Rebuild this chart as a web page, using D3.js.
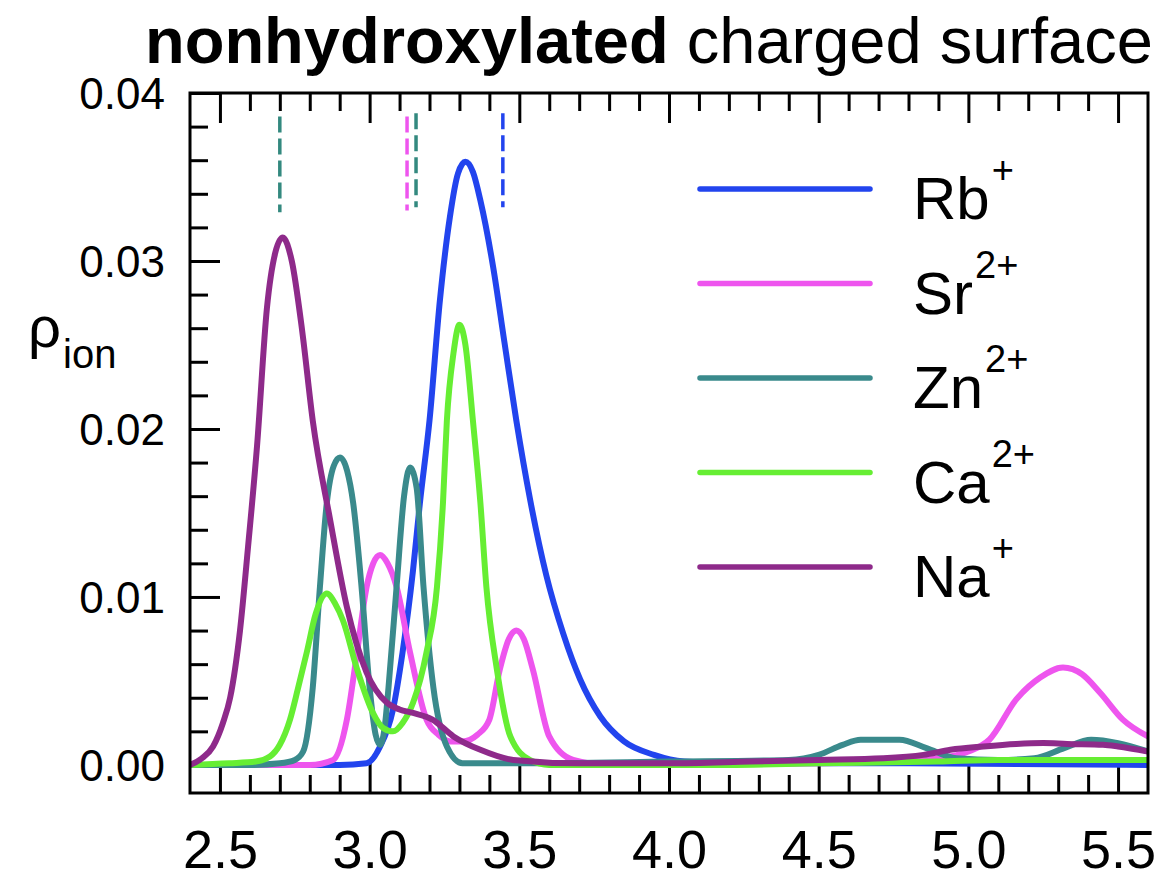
<!DOCTYPE html>
<html lang="en">
<head>
    <meta charset="UTF-8">
    <title>nonhydroxylated charged surface</title>
    <script src="https://d3js.org/d3.v7.min.js"></script>
    <style>
        body { margin: 0; background: #fff; }
        svg { font-family: "Liberation Sans", Arial, Helvetica, sans-serif; }
        .frame { fill: none; stroke: #000; stroke-width: 3; }
        .axis line { stroke: #000; stroke-width: 3; }
        .axis path { display: none; }
        .ion { fill: none; stroke-width: 6; stroke-linejoin: round; stroke-linecap: round; }
    </style>
</head>
<body>
<script>
    const width = 1173;
    const height = 880;

    // series, [distance, density]
    const rb = [[2.40,0],[2.90,0],[2.99,0.0001],[3.035,0.0011],[3.078,0.0033],[3.11,0.0067],[3.145,0.0116],
        [3.168,0.0156],[3.20,0.0205],[3.235,0.0277],[3.268,0.0326],[3.295,0.0352],[3.32,0.0359],[3.345,0.0353],
        [3.37,0.0336],[3.413,0.0296],[3.45,0.0252],[3.49,0.0205],[3.536,0.0158],[3.59,0.0113],[3.647,0.0078],
        [3.703,0.0051],[3.77,0.0029],[3.85,0.0014],[3.95,0.0006],[4.05,0.0002],[4.20,0.0001],[4.80,0.0001],[5.60,0]];
    const sr = [[2.40,0],[2.80,0],[2.878,0.0003],[2.924,0.0027],[2.958,0.0067],[2.99,0.0106],[3.012,0.0120],
        [3.035,0.0125],[3.06,0.0120],[3.09,0.0106],[3.135,0.0067],[3.19,0.0027],[3.23,0.0018],[3.27,0.0014],
        [3.31,0.0014],[3.36,0.0018],[3.40,0.0027],[3.435,0.0057],[3.465,0.0075],[3.49,0.0080],[3.515,0.0075],
        [3.545,0.0057],[3.60,0.0017],[3.68,0.0003],[3.80,0],[4.50,0.0001],[4.70,0.0002],[4.90,0.0004],
        [5.00,0.0008],[5.07,0.0015],[5.16,0.0039],[5.24,0.0052],[5.316,0.0058],[5.38,0.0054],[5.44,0.0043],
        [5.516,0.0027],[5.60,0.0017]];
    const zn = [[2.40,0],[2.60,0],[2.70,0.0001],[2.75,0.0003],[2.778,0.0008],[2.81,0.0046],[2.834,0.0106],
        [2.857,0.0156],[2.88,0.0178],[2.901,0.0183],[2.925,0.0175],[2.945,0.0156],[2.973,0.0106],[3.00,0.0046],
        [3.02,0.0018],[3.035,0.0012],[3.05,0.0022],[3.063,0.0046],[3.09,0.0106],[3.115,0.0160],[3.135,0.0177],
        [3.157,0.0165],[3.18,0.0106],[3.213,0.0046],[3.258,0.0011],[3.31,0.0001],[3.50,0.0001],[4.00,0.0002],
        [4.40,0.0003],[4.50,0.0006],[4.58,0.0012],[4.64,0.0015],[4.77,0.0015],[4.86,0.0010],[4.96,0.0004],
        [5.10,0.0003],[5.22,0.0004],[5.32,0.0010],[5.41,0.0015],[5.50,0.0013],[5.60,0.0008]];
    const ca = [[2.40,0],[2.53,0.0001],[2.62,0.0002],[2.667,0.0005],[2.70,0.0012],[2.734,0.0027],[2.76,0.0045],
        [2.79,0.0067],[2.82,0.0090],[2.857,0.0102],[2.885,0.0096],[2.911,0.0086],[2.958,0.0057],[3.011,0.0031],
        [3.045,0.0022],[3.078,0.0020],[3.11,0.0025],[3.145,0.0037],[3.19,0.0067],[3.225,0.0106],[3.245,0.0156],
        [3.258,0.0205],[3.28,0.0245],[3.30,0.0262],[3.32,0.0250],[3.345,0.0205],[3.37,0.0156],[3.39,0.0106],
        [3.425,0.0057],[3.47,0.0017],[3.535,0.0003],[3.60,0],[4.20,0],[4.50,0.0001],[4.90,0.0002],
        [5.10,0.0003],[5.60,0.0003]];
    const na = [[2.40,0],[2.44,0.0004],[2.477,0.0011],[2.51,0.0025],[2.534,0.0040],[2.567,0.0080],[2.594,0.0130],
        [2.624,0.0190],[2.657,0.0272],[2.685,0.0305],[2.71,0.0314],[2.74,0.0300],[2.775,0.0258],[2.81,0.0205],
        [2.868,0.0146],[2.924,0.0094],[2.99,0.0055],[3.058,0.0037],[3.10,0.0033],[3.145,0.0031],[3.21,0.0027],
        [3.28,0.0017],[3.37,0.0009],[3.48,0.0003],[3.70,0.0001],[4.00,0.0001],[4.27,0.0002],[4.50,0.0003],
        [4.715,0.0004],[4.85,0.0006],[4.94,0.0009],[5.05,0.0011],[5.16,0.00125],[5.25,0.0013],[5.33,0.00125],
        [5.45,0.0012],[5.50,0.0011],[5.60,0.0008]];

    const ionNames = ["Rb", "Sr", "Zn", "Ca", "Na"];
    const ionCharges = ["+", "2+", "2+", "2+", "+"];
    const ionColors = ["#2244ee", "#ee55ee", "#3a8a8c", "#66ee33", "#8e2a8a"];
    const ionSeries = [rb, sr, zn, ca, na];

    // dashed reference positions near the top
    const markerX = [2.70, 3.125, 3.155, 3.445];
    const markerColors = ["#33897f", "#ee55ee", "#33897f", "#2244ee"];
    const markerTop = [0.0386, 0.0386, 0.0388, 0.0388];
    const markerBottom = [0.0329, 0.0330, 0.0332, 0.0332];

    const xTickLabels = ["2.5", "3.0", "3.5", "4.0", "4.5", "5.0", "5.5"];
    const yTickLabels = ["0.00", "0.01", "0.02", "0.03", "0.04"];

    const plotL = 190, plotR = 1148, plotT = 93, plotB = 793;

    const x = d3.scaleLinear().domain([2.4, 5.6]).range([plotL, plotR]);
    const y = d3.scaleLinear().domain([-0.00167, 0.04]).range([plotB, plotT]);

    const svg = d3.select("body").append("svg")
        .attr("width", width).attr("height", height);

    svg.append("defs").append("clipPath").attr("id", "plot")
        .append("rect")
        .attr("x", plotL).attr("y", plotT)
        .attr("width", plotR - plotL).attr("height", plotB - plotT);

    // ticks
    const xMajor = xTickLabels.map(Number);
    const xMinor = d3.range(25, 56).map(d => d / 10).filter(v => !xMajor.some(m => Math.abs(m - v) < 1e-9));
    const yMajor = yTickLabels.map(Number);
    const yMinor = d3.range(0, 21).map(d => d * 0.002).filter(v => !yMajor.some(m => Math.abs(m - v) < 1e-9));

    svg.append("g").attr("class", "axis")
        .attr("transform", `translate(0,${plotB})`)
        .call(d3.axisBottom(x).tickValues(xMinor).tickSize(-18).tickFormat(""));
    svg.append("g").attr("class", "axis")
        .attr("transform", `translate(0,${plotB})`)
        .call(d3.axisBottom(x).tickValues(xMajor).tickSize(-30).tickPadding(37)
            .tickFormat((d, i) => xTickLabels[i]))
        .selectAll("text")
        .attr("font-size", 54).attr("fill", "#000")
        .attr("font-family", "'Liberation Sans', Arial, sans-serif");

    svg.append("g").attr("class", "axis")
        .attr("transform", `translate(0,${plotT})`)
        .call(d3.axisTop(x).tickValues(xMinor).tickSize(-18).tickFormat(""));
    svg.append("g").attr("class", "axis")
        .attr("transform", `translate(0,${plotT})`)
        .call(d3.axisTop(x).tickValues(xMajor).tickSize(-30).tickFormat(""));

    svg.append("g").attr("class", "axis")
        .attr("transform", `translate(${plotL},0)`)
        .call(d3.axisLeft(y).tickValues(yMinor).tickSize(-18).tickFormat(""));
    svg.append("g").attr("class", "axis")
        .attr("transform", `translate(${plotL},0)`)
        .call(d3.axisLeft(y).tickValues(yMajor).tickSize(-30).tickPadding(25)
            .tickFormat((d, i) => yTickLabels[i]))
        .selectAll("text")
        .attr("font-size", 44).attr("fill", "#000").attr("dy", "0.35em")
        .attr("font-family", "'Liberation Sans', Arial, sans-serif");

    // curves
    const line = d3.line()
        .x(d => x(d[0]))
        .y(d => y(d[1]))
        .curve(d3.curveMonotoneX);

    svg.append("g").attr("clip-path", "url(#plot)")
        .selectAll("path.ion")
        .data(ionSeries)
        .join("path")
        .attr("class", "ion")
        .attr("stroke", (d, i) => ionColors[i])
        .attr("d", line);

    // dashed markers
    svg.selectAll("line.marker")
        .data(markerX)
        .join("line")
        .attr("class", "marker")
        .attr("x1", d => x(d)).attr("x2", d => x(d))
        .attr("y1", (d, i) => y(markerTop[i]))
        .attr("y2", (d, i) => y(markerBottom[i]))
        .attr("stroke", (d, i) => markerColors[i])
        .attr("stroke-width", 3.5)
        .attr("stroke-dasharray", "16,6");

    svg.append("rect").attr("class", "frame")
        .attr("x", plotL).attr("y", plotT)
        .attr("width", plotR - plotL).attr("height", plotB - plotT);

    // legend
    const legend = svg.append("g");
    const rowY = i => 189 + i * 94.5;
    legend.selectAll("line")
        .data(ionNames)
        .join("line")
        .attr("x1", 700).attr("x2", 870)
        .attr("y1", (d, i) => rowY(i)).attr("y2", (d, i) => rowY(i))
        .attr("stroke", (d, i) => ionColors[i])
        .attr("stroke-width", 5.5)
        .attr("stroke-linecap", "round");
    const lt = legend.selectAll("text")
        .data(ionNames)
        .join("text")
        .attr("x", 913)
        .attr("y", (d, i) => rowY(i) + 30)
        .attr("font-size", 60);
    lt.append("tspan").text(d => d);
    lt.append("tspan")
        .attr("font-size", 38)
        .attr("dx", 2)
        .attr("dy", -36)
        .text((d, i) => ionCharges[i]);

    // y label
    const yl = svg.append("text").attr("x", 28).attr("y", 347);
    yl.append("tspan").attr("font-size", 58).text("ρ");
    yl.append("tspan").attr("font-size", 40).attr("dx", 2).attr("dy", 21).text("ion");

    // title
    const title = svg.append("text").attr("x", 145).attr("y", 63).attr("font-size", 65);
    title.append("tspan").attr("font-weight", "bold").text("nonhydroxylated");
    title.append("tspan").text(" charged surface");
</script>
</body>
</html>
